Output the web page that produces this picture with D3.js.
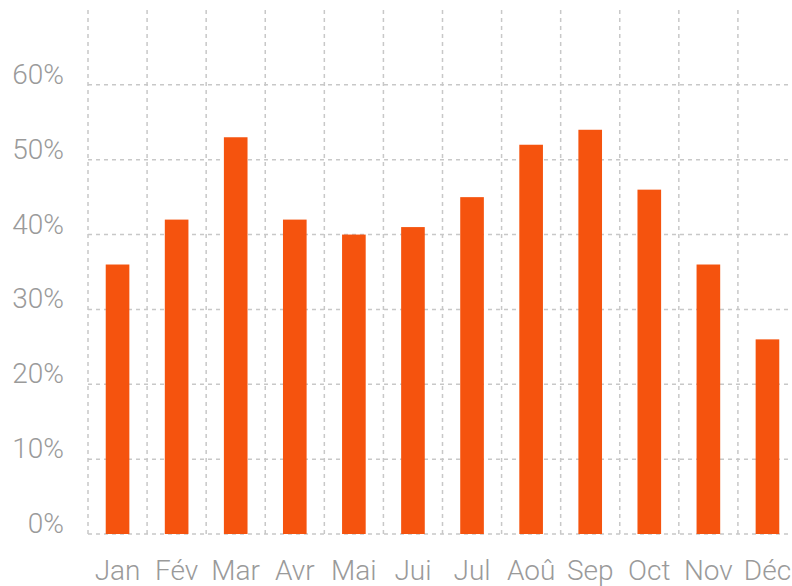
<!DOCTYPE html>
<html>
<head>
<meta charset="utf-8">
<script src="https://cdn.jsdelivr.net/npm/d3@7"></script>
<style>
	body { margin: 0; background: #fff; }
	svg text { font-family: Roboto, "Liberation Sans", sans-serif; font-weight: 300; fill: #9a9a9a; }
</style>
</head>
<body>
<svg id="chart"></svg>
<script>
(function(){
	'use strict';

	var months = ["Jan", "Fév", "Mar", "Avr", "Mai", "Jui", "Jul", "Aoû", "Sep", "Oct", "Nov", "Déc"];
	var values = [36, 42, 53, 42, 40, 41, 45, 52, 54, 46, 36, 26];
	var yTicks = [0, 10, 20, 30, 40, 50, 60];

	var width = 792, height = 586;
	var margin = {top: 10, right: -5, bottom: 52, left: 88};

	var svg = d3.select("#chart")
		.attr("width", width)
		.attr("height", height);

	var innerW = width - margin.left - margin.right,
		innerH = height - margin.top - margin.bottom;

	var g = svg.append("g").attr("transform", "translate(" + margin.left + "," + margin.top + ")");

	var x = d3.scaleBand()
		.domain(months)
		.range([0, innerW]);

	var y = d3.scaleLinear()
		.domain([0, 70])
		.range([innerH, 0]);

	// grid, vertical lines on band edges
	g.append("g").selectAll("line")
		.data(months)
		.enter().append("line")
		.attr("x1", function(d){ return x(d); })
		.attr("x2", function(d){ return x(d); })
		.attr("y1", 0)
		.attr("y2", innerH)
		.attr("stroke", "#c8c8c8")
		.attr("stroke-width", 1.5)
		.attr("stroke-dasharray", "4,4");

	g.append("g").selectAll("line")
		.data(yTicks)
		.enter().append("line")
		.attr("x1", 0)
		.attr("x2", innerW)
		.attr("y1", function(d){ return y(d); })
		.attr("y2", function(d){ return y(d); })
		.attr("stroke", "#c8c8c8")
		.attr("stroke-width", 1.5)
		.attr("stroke-dasharray", "4,4");

	// bars
	var barW = x.bandwidth() * 0.4;
	g.selectAll(".bar")
		.data(values)
		.enter().append("rect")
		.attr("class", "bar")
		.attr("x", function(d, i){ return x(months[i]) + (x.bandwidth() - barW) / 2; })
		.attr("width", barW)
		.attr("y", function(d){ return y(d); })
		.attr("height", function(d){ return y(0) - y(d); })
		.attr("fill", "#f5530e");

	// y labels
	g.append("g").selectAll("text")
		.data(yTicks)
		.enter().append("text")
		.attr("x", -24)
		.attr("y", function(d){ return y(d) - 1; })
		.attr("text-anchor", "end")
		.style("font-size", "28px")
		.text(function(d){ return d + "%"; });

	// x labels
	g.append("g").selectAll("text")
		.data(months)
		.enter().append("text")
		.attr("x", function(d){ return x(d) + x.bandwidth() / 2; })
		.attr("y", innerH + 46)
		.attr("text-anchor", "middle")
		.style("font-size", "28px")
		.text(function(d){ return d; });

})();
</script>
</body>
</html>
